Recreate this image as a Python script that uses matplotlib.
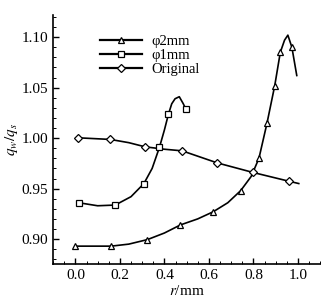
import matplotlib
matplotlib.use("Agg")
import matplotlib.pyplot as plt
from matplotlib.ticker import MultipleLocator, FormatStrFormatter
from matplotlib.lines import Line2D

plt.rcParams['font.family'] = ['Liberation Serif', 'DejaVu Serif']
plt.rcParams['mathtext.fontset'] = 'stix'

# phi 2mm (triangles)
r2_line = [0.0, 0.08, 0.161, 0.24, 0.324, 0.40, 0.472, 0.55, 0.619, 0.685, 0.743, 0.79, 0.825, 0.861, 0.896, 0.921, 0.94, 0.955, 0.973, 0.995]
q2_line = [0.893, 0.893, 0.893, 0.895, 0.8995, 0.906, 0.914, 0.920, 0.927, 0.936, 0.948, 0.962, 0.980, 1.0146, 1.052, 1.085, 1.097, 1.102, 1.090, 1.062]
r2_mark = [0.0, 0.161, 0.324, 0.472, 0.619, 0.745, 0.825, 0.861, 0.896, 0.921, 0.973]
q2_mark = [0.893, 0.893, 0.8995, 0.914, 0.927, 0.948, 0.980, 1.0146, 1.052, 1.085, 1.090]

# phi 1mm (squares)
r1_line = [0.015, 0.10, 0.179, 0.25, 0.308, 0.345, 0.378, 0.40, 0.418, 0.433, 0.448, 0.467, 0.485, 0.497]
q1_line = [0.936, 0.933, 0.9337, 0.942, 0.955, 0.970, 0.991, 1.008, 1.0235, 1.034, 1.039, 1.041, 1.034, 1.0284]
r1_mark = [0.015, 0.179, 0.308, 0.378, 0.418, 0.497]
q1_mark = [0.936, 0.9337, 0.955, 0.991, 1.0235, 1.0284]

# Original (diamonds)
r0_line = [0.013, 0.157, 0.24, 0.313, 0.40, 0.480, 0.637, 0.798, 0.958, 1.004]
q0_line = [1.0003, 0.9987, 0.9955, 0.9914, 0.989, 0.9874, 0.9755, 0.966, 0.9574, 0.955]
r0_mark = [0.013, 0.157, 0.313, 0.480, 0.637, 0.798, 0.958]
q0_mark = [1.0003, 0.9987, 0.9914, 0.9874, 0.9755, 0.966, 0.9574]

labels = ['φ2mm', 'φ1mm', 'Original']
x_ticks = [0.0, 0.2, 0.4, 0.6, 0.8, 1.0]
y_ticks = [0.90, 0.95, 1.00, 1.05, 1.10]

fig = plt.figure(figsize=(3.26, 2.99), dpi=100)
ax = fig.add_axes([0.163, 0.116, 0.819, 0.834])

lw = 1.2
ms = 5.0
series = [
    (r2_line, q2_line, r2_mark, q2_mark, '^'),
    (r1_line, q1_line, r1_mark, q1_mark, 's'),
    (r0_line, q0_line, r0_mark, q0_mark, 'D'),
]
handles = []
for (rl, ql, rm, qm, mk), lab in zip(series, labels):
    ax.plot(rl, ql, color='black', lw=lw, zorder=2)
    m = ms if mk != 'D' else ms * 0.9
    ax.plot(rm, qm, linestyle='none', marker=mk, markersize=m,
            markerfacecolor='white', markeredgecolor='black', markeredgewidth=0.9, zorder=3)
    handles.append(Line2D([], [], color='black', lw=1.6, marker=mk, markersize=m * 0.85,
                          markerfacecolor='white', markeredgecolor='black', markeredgewidth=0.9))

ax.set_xlim(-0.1, 1.1)
ax.set_ylim(0.875, 1.122)
ax.set_xticks(x_ticks)
ax.set_yticks(y_ticks)
ax.xaxis.set_minor_locator(MultipleLocator(0.05))
ax.yaxis.set_minor_locator(MultipleLocator(0.01))
ax.xaxis.set_major_formatter(FormatStrFormatter('%.1f'))
ax.yaxis.set_major_formatter(FormatStrFormatter('%.2f'))
ax.tick_params(which='major', direction='in', length=4, width=1.0, labelsize=11)
ax.tick_params(which='minor', direction='in', length=2, width=0.7)
for s in ['top', 'right']:
    ax.spines[s].set_visible(False)
for s in ['left', 'bottom']:
    ax.spines[s].set_linewidth(1.2)

ax.set_xlabel('$r$/mm', fontsize=11, labelpad=1)
ax.set_ylabel('$q_w/q_s$', fontsize=11, labelpad=1)

ax.legend(handles, labels, loc='upper left', bbox_to_anchor=(100 / 326, 1 - 35 / 299),
          bbox_transform=fig.transFigure, frameon=False, fontsize=10.5,
          handlelength=2.9, handletextpad=0.6, labelspacing=0.05, borderpad=0,
          borderaxespad=0)

fig.savefig('out.png', dpi=100)
